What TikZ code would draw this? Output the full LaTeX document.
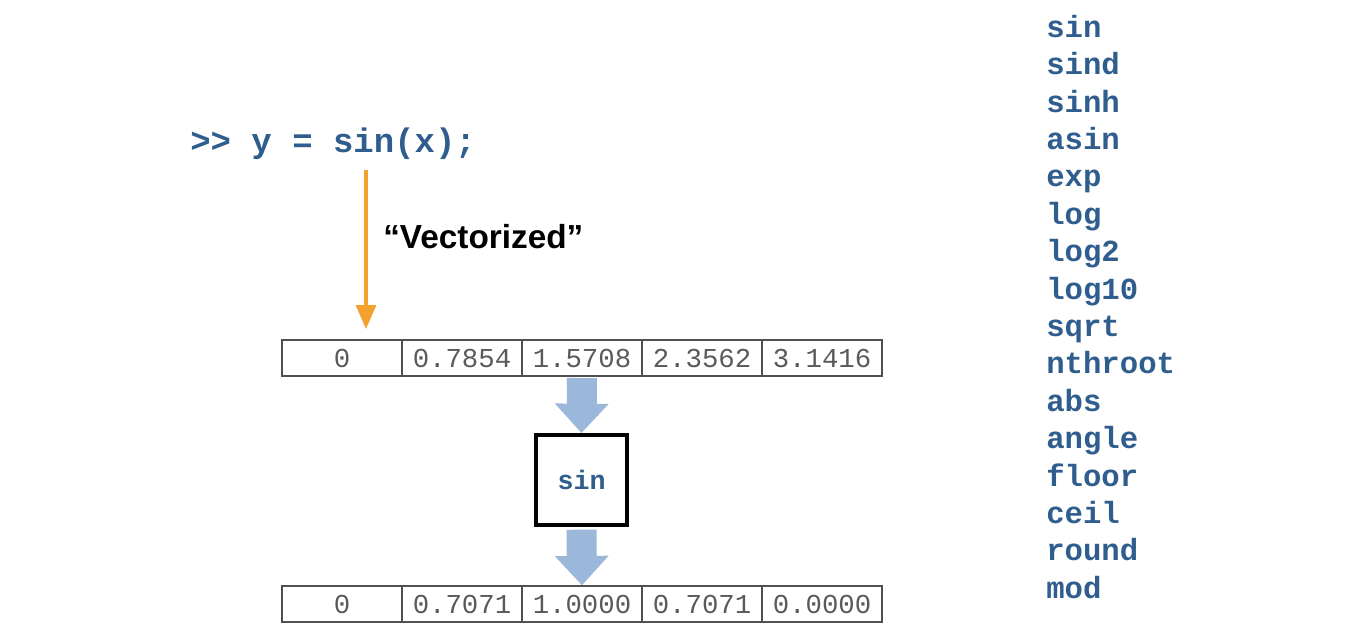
\documentclass[tikz,border=0pt]{standalone}
\usepackage{fontspec}
\newfontfamily\codefont{Liberation Mono}
\newfontfamily\labelfont{Liberation Sans}
\usetikzlibrary{arrows.meta}
\definecolor{codeblue}{HTML}{2F5E8E}
\definecolor{fatblue}{HTML}{9BB7DA}
\definecolor{vecorange}{HTML}{F4A22D}
\definecolor{cellgray}{HTML}{505050}
\definecolor{celltext}{HTML}{5A5A5A}
\begin{document}
\begin{tikzpicture}[x=0.75pt,y=-0.75pt,
  cell/.style={draw=cellgray, line width=1.1pt, minimum width=90pt, minimum height=27pt,
    inner sep=0pt, text=celltext, font=\codefont\fontsize{20.5}{24}\selectfont},
  funcbox/.style={draw=black, line width=3pt, minimum width=68pt, minimum height=67.5pt,
    inner sep=0pt, text=codeblue, font=\codefont\bfseries\fontsize{20}{24}\selectfont},
  fatarrow/.style={draw=fatblue, line width=22.5pt, -{Triangle[length=22pt,width=39pt]}},
  vecarrow/.style={draw=vecorange, line width=2.4pt, -{Triangle[length=18pt,width=15pt]}},
  listitem/.style={anchor=base west, inner sep=0pt, text=codeblue,
    font=\codefont\bfseries\fontsize{23}{28}\selectfont},
  cmdtext/.style={anchor=base west, inner sep=0pt, text=codeblue,
    font=\codefont\bfseries\fontsize{25.5}{30}\selectfont},
  vectext/.style={anchor=base west, inner sep=0pt, text=black,
    font=\labelfont\bfseries\fontsize{25}{30}\selectfont}
]
\useasboundingbox[fill=white] (0,0) rectangle (1352,642);

% command
\node[cmdtext] (cmd) at (190,152) {>{}> y = sin(x);};

% input row
\node[cell] (a1) at (342,358) {0};
\node[cell] (a2) at (462,358) {0.7854};
\node[cell] (a3) at (582,358) {1.5708};
\node[cell] (a4) at (702,358) {2.3562};
\node[cell] (a5) at (822,358) {3.1416};

% function box
\node[funcbox] (f) at (581.5,480) {sin};

% output row
\node[cell] (b1) at (342,604) {0};
\node[cell] (b2) at (462,604) {0.7071};
\node[cell] (b3) at (582,604) {1.0000};
\node[cell] (b4) at (702,604) {0.7071};
\node[cell] (b5) at (822,604) {0.0000};

% blue arrows
\draw[fatarrow, shorten <=1pt] (a3.south) -- (f.north);
\draw[fatarrow, shorten <=2pt] (f.south) -- (b3.north);

% orange arrow
\coordinate (os) at (366,170);
\coordinate (oe) at (366,329);
\draw[vecarrow] (os) -- (oe);
\node[vectext] (vec) at (383,248) {“Vectorized”};

% function list
\foreach \fn [count=\i from 0] in {sin,sind,sinh,asin,exp,log,log2,log10,sqrt,nthroot,abs,angle,floor,ceil,round,mod}
  \node[listitem] (l\i) at (1046,37.3+37.4*\i) {\fn};
\end{tikzpicture}
\end{document}
